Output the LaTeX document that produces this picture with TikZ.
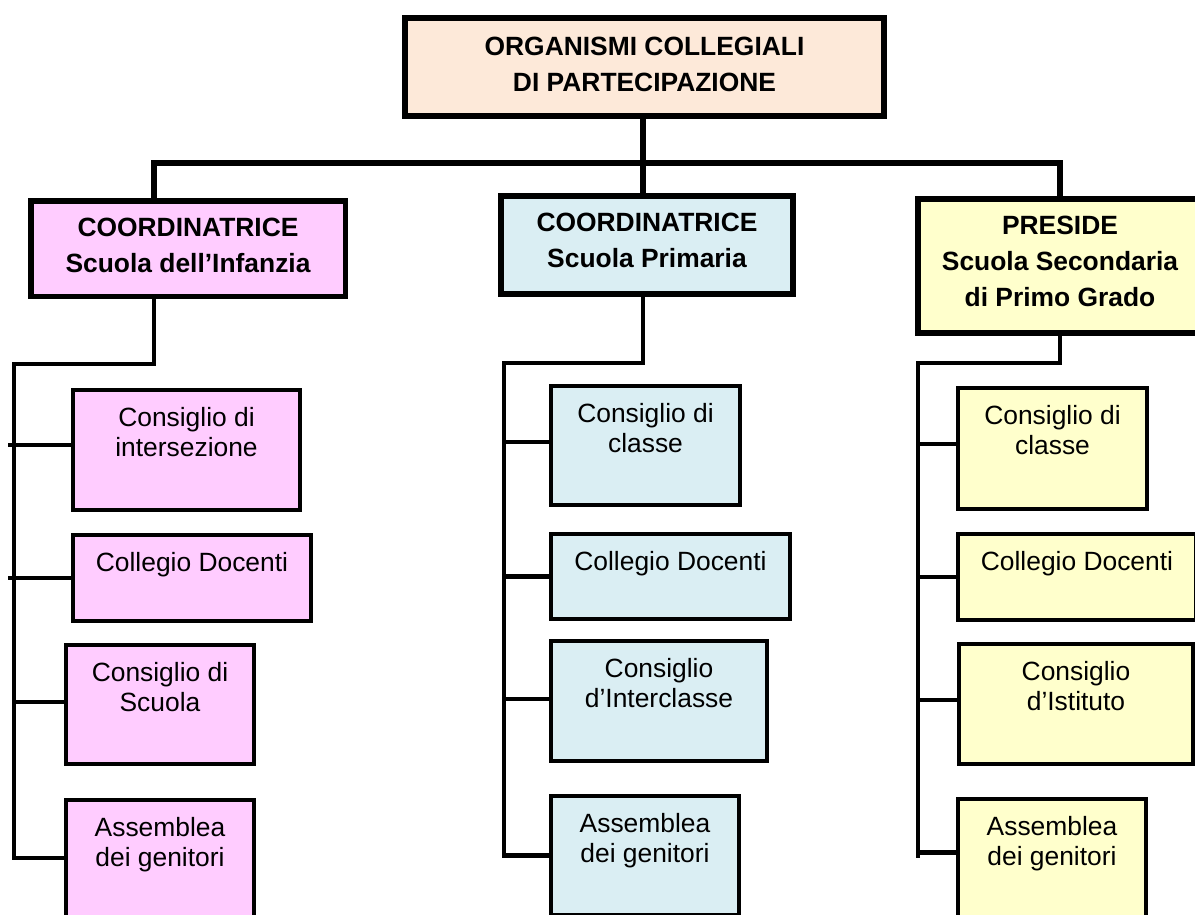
\documentclass[tikz,border=0pt]{standalone}
\usepackage{fontspec}
\setmainfont{Liberation Sans}
\definecolor{peach}{HTML}{FDE9D9}
\definecolor{pinkc}{HTML}{FFCCFF}
\definecolor{bluec}{HTML}{DAEEF3}
\definecolor{yellowc}{HTML}{FFFFCC}
\begin{document}
\begin{tikzpicture}[x=1pt,y=-1pt,
  conn/.style={draw=black, line width=4.5pt},
  topconn/.style={draw=black, line width=5.3pt},
  headbox/.style={draw=black, line width=6pt, rectangle, inner sep=0pt},
  subbox/.style={draw=black, line width=4pt, rectangle, inner sep=0pt},
  regtxt/.style={inner sep=0pt, align=center, anchor=north, font=\fontsize{26.4}{30}\selectfont},
  boldtxt/.style={inner sep=0pt, align=center, anchor=north, font=\fontsize{26.4}{36}\selectfont\bfseries},
]
\useasboundingbox (0,0) rectangle (1195,914);
\fill[white] (0,0) rectangle (1195,914);
\clip (0,0) rectangle (1195,914);

% root
\node[headbox, fill=peach, minimum width=479pt, minimum height=98pt] (root) at (644.5,67) {};
\node[boldtxt] (roottxt) at ([yshift=-14.8pt]root.north) {\strut ORGANISMI COLLEGIALI\\\strut DI PARTECIPAZIONE};

% level 1
\node[headbox, line width=5.5pt, fill=pinkc, minimum width=314.5pt, minimum height=95.5pt] (inf) at (188,248.5) {};
\node[boldtxt] (inftxt) at ([yshift=-13.3pt]inf.north) {\strut COORDINATRICE\\\strut Scuola dell’Infanzia};
\node[headbox, fill=bluec, minimum width=292pt, minimum height=98pt] (pri) at (647,245) {};
\node[boldtxt] (pritxt) at ([yshift=-13.3pt]pri.north) {\strut COORDINATRICE\\\strut Scuola Primaria};
\node[headbox, fill=yellowc, minimum width=284pt, minimum height=134pt] (sec) at (1060,266) {};
\node[boldtxt] (sectxt) at ([yshift=-13.3pt]sec.north) {\strut PRESIDE\\\strut Scuola Secondaria\\\strut di Primo Grado};

% children: infanzia
\node[subbox, fill=pinkc, minimum width=227pt, minimum height=120pt] (inf1) at (186.5,450) {};
\node[regtxt] (inf1t) at ([yshift=-17.5pt]inf1.north) {\strut Consiglio di\\\strut intersezione};
\node[subbox, fill=pinkc, minimum width=238pt, minimum height=86pt] (inf2) at (192,578) {};
\node[regtxt] (inf2t) at ([yshift=-17.5pt]inf2.north) {\strut Collegio Docenti};
\node[subbox, fill=pinkc, minimum width=188pt, minimum height=119pt] (inf3) at (160,704.5) {};
\node[regtxt] (inf3t) at ([yshift=-17.5pt]inf3.north) {\strut Consiglio di\\\strut Scuola};
\node[subbox, fill=pinkc, minimum width=188pt, minimum height=119pt] (inf4) at (160,859.5) {};
\node[regtxt] (inf4t) at ([yshift=-17.5pt]inf4.north) {\strut Assemblea\\\strut dei genitori};

% children: primaria
\node[subbox, fill=bluec, minimum width=189pt, minimum height=119pt] (pri1) at (645.5,445.5) {};
\node[regtxt] (pri1t) at ([yshift=-17.5pt]pri1.north) {\strut Consiglio di\\\strut classe};
\node[subbox, fill=bluec, minimum width=239pt, minimum height=85pt] (pri2) at (670.5,576.5) {};
\node[regtxt] (pri2t) at ([yshift=-17.5pt]pri2.north) {\strut Collegio Docenti};
\node[subbox, fill=bluec, minimum width=216pt, minimum height=120pt] (pri3) at (659,701) {};
\node[regtxt] (pri3t) at ([yshift=-17.5pt]pri3.north) {\strut Consiglio\\\strut d’Interclasse};
\node[subbox, fill=bluec, minimum width=188pt, minimum height=119pt] (pri4) at (645,855.5) {};
\node[regtxt] (pri4t) at ([yshift=-17.5pt]pri4.north) {\strut Assemblea\\\strut dei genitori};

% children: secondaria
\node[subbox, fill=yellowc, minimum width=189pt, minimum height=121pt] (sec1) at (1052.5,448.5) {};
\node[regtxt] (sec1t) at ([yshift=-17.5pt]sec1.north) {\strut Consiglio di\\\strut classe};
\node[subbox, fill=yellowc, minimum width=238pt, minimum height=86pt] (sec2) at (1077,577) {};
\node[regtxt] (sec2t) at ([yshift=-17.5pt]sec2.north) {\strut Collegio Docenti};
\node[subbox, fill=yellowc, minimum width=234pt, minimum height=120pt] (sec3) at (1076,704) {};
\node[regtxt] (sec3t) at ([yshift=-17.5pt]sec3.north) {\strut Consiglio\\\strut d’Istituto};
\node[subbox, fill=yellowc, minimum width=188pt, minimum height=119pt] (sec4) at (1052,858.5) {};
\node[regtxt] (sec4t) at ([yshift=-17.5pt]sec4.north) {\strut Assemblea\\\strut dei genitori};

% top connectors
\coordinate (bL) at (154,163);
\coordinate (bM) at (643,163);
\coordinate (bR) at (1060,163);
\draw[topconn] (bM |- root.south) -- (bM |- pri.north);
\draw[topconn, line join=miter] (bL |- inf.north) -- (bL) -- (bR) -- (bR |- sec.north);

% connection points on boxes
\coordinate (i1c) at ([yshift=5pt]inf1.west);
\coordinate (i2c) at (inf2.west);
\coordinate (i3c) at ([yshift=2.5pt]inf3.west);
\coordinate (i4c) at ([yshift=1.5pt]inf4.west);
\coordinate (p1c) at ([yshift=3.5pt]pri1.west);
\coordinate (p2c) at (pri2.west);
\coordinate (p3c) at ([yshift=2pt]pri3.west);
\coordinate (p4c) at (pri4.west);
\coordinate (s1c) at ([yshift=4.5pt]sec1.west);
\coordinate (s2c) at (sec2.west);
\coordinate (s3c) at ([yshift=4pt]sec3.west);
\coordinate (s4c) at ([yshift=6pt]sec4.west);

% infanzia subtree
\coordinate (lc) at (14,364);
\coordinate (ls) at (8,364);
\draw[conn, line join=miter] (bL |- inf.south) -- (bL |- lc) -- (lc) -- (lc |- i4c) -- (i4c);
\draw[conn] (ls |- i1c) -- (i1c);
\draw[conn] (ls |- i2c) -- (i2c);
\draw[conn] (lc |- i3c) -- (i3c);

% primaria subtree
\coordinate (mc) at (504,363);
\draw[conn, line join=miter] (bM |- pri.south) -- (bM |- mc) -- (mc) -- (mc |- p4c) -- (p4c);
\draw[conn] (mc |- p1c) -- (p1c);
\draw[conn] (mc |- p2c) -- (p2c);
\draw[conn] (mc |- p3c) -- (p3c);

% secondaria subtree
\coordinate (rc) at (918,363);
\coordinate (rb) at (918,858);
\draw[conn, line join=miter] (bR |- sec.south) -- (bR |- rc) -- (rc) -- (rb);
\draw[conn] (rc |- s1c) -- (s1c);
\draw[conn] (rc |- s2c) -- (s2c);
\draw[conn] (rc |- s3c) -- (s3c);
\draw[conn] (rc |- s4c) -- (s4c);
\end{tikzpicture}
\end{document}
